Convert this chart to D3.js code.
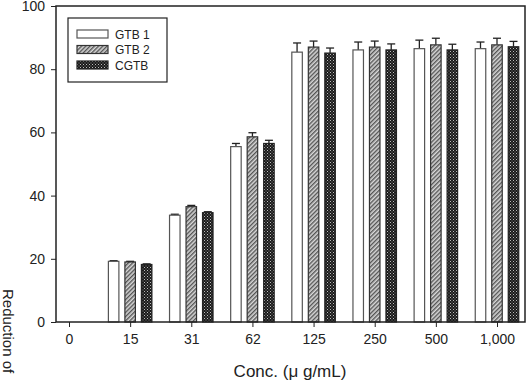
<!DOCTYPE html>
<html>
<head>
<meta charset="utf-8">
<script src="https://cdn.jsdelivr.net/npm/d3@7"></script>
<style>
  body { margin: 0; background: #fff; }
  svg { font-family: "Liberation Sans", Arial, sans-serif; }
</style>
</head>
<body>
<div id="chart"></div>
<script>
const categories = ["0", "15", "31", "62", "125", "250", "500", "1,000"]
const seriesNames = ["GTB 1", "GTB 2", "CGTB"]
const gtb1 = [0, 19.2, 33.8, 55.5, 85.4, 86.1, 86.5, 86.5]
const gtb2 = [0, 19.0, 36.5, 58.6, 87.0, 87.0, 87.7, 87.7]
const cgtb = [0, 18.2, 34.6, 56.5, 85.1, 86.1, 86.1, 87.1]
const gtb1Err = [0, 0.2, 0.3, 1.0, 2.9, 2.5, 2.7, 2.1]
const gtb2Err = [0, 0.2, 0.4, 1.3, 1.9, 1.9, 2.1, 2.1]
const cgtbErr = [0, 0.2, 0.3, 1.0, 1.6, 1.9, 1.8, 1.7]
const yTicks = [0, 20, 40, 60, 80, 100]

const width = 530, height = 384
const svg = d3.select("#chart").append("svg")
  .attr("width", width)
  .attr("height", height)

// patterns
const defs = svg.append("defs")
let hatch = defs.append("pattern")
  .attr("id", "hatch")
  .attr("patternUnits", "userSpaceOnUse")
  .attr("width", 3).attr("height", 3)
  .attr("patternTransform", "rotate(45)")
hatch.append("rect").attr("width", 3).attr("height", 3).attr("fill", "#d8d8d8")
hatch.append("rect").attr("width", 1.4).attr("height", 3).attr("fill", "#555")

let dots = defs.append("pattern")
  .attr("id", "dots")
  .attr("patternUnits", "userSpaceOnUse")
  .attr("width", 3).attr("height", 3)
dots.append("rect").attr("width", 3).attr("height", 3).attr("fill", "#1a1a1a")
dots.append("rect").attr("x", 0).attr("y", 0).attr("width", 1).attr("height", 1).attr("fill", "#bbb")
dots.append("rect").attr("x", 1.5).attr("y", 1.5).attr("width", 1).attr("height", 1).attr("fill", "#888")

const fills = ["#fff", "url(#hatch)", "url(#dots)"]
const strokes = ["#555", "#333", "#222"]

const plotLeft = 56, plotRight = 525, plotTop = 6, plotBottom = 322

let x = d3.scalePoint()
  .domain(categories)
  .range([69, 497])

let y = d3.scaleLinear()
  .domain([0, 100])
  .range([plotBottom, plotTop])

let offset = d3.scalePoint()
  .domain(seriesNames)
  .range([-16.5, 16.5])
const barW = 10.5

const series = [
  { name: "GTB 1", values: gtb1, err: gtb1Err },
  { name: "GTB 2", values: gtb2, err: gtb2Err },
  { name: "CGTB", values: cgtb, err: cgtbErr }
]

// bars
series.forEach((s, si) => {
  let g = svg.append("g")
  let rows = categories.map((c, i) => ({ c: c, v: s.values[i], e: s.err[i] }))
    .filter(d => d.v > 0)

  // error bars (upper only)
  g.selectAll("line.err")
    .data(rows)
    .enter().append("line")
    .attr("x1", d => x(d.c) + offset(s.name))
    .attr("x2", d => x(d.c) + offset(s.name))
    .attr("y1", d => y(d.v))
    .attr("y2", d => y(d.v + d.e))
    .attr("stroke", "#222")
    .attr("stroke-width", 1.3)
  g.selectAll("line.cap")
    .data(rows)
    .enter().append("line")
    .attr("x1", d => x(d.c) + offset(s.name) - 4)
    .attr("x2", d => x(d.c) + offset(s.name) + 4)
    .attr("y1", d => y(d.v + d.e))
    .attr("y2", d => y(d.v + d.e))
    .attr("stroke", "#222")
    .attr("stroke-width", 1.3)

  g.selectAll("rect")
    .data(rows)
    .enter().append("rect")
    .attr("x", d => x(d.c) + offset(s.name) - barW / 2)
    .attr("y", d => y(d.v))
    .attr("width", barW)
    .attr("height", d => y(0) - y(d.v))
    .attr("fill", fills[si])
    .attr("stroke", strokes[si])
    .attr("stroke-width", 1.2)
})

// frame
svg.append("rect")
  .attr("x", plotLeft).attr("y", plotTop)
  .attr("width", plotRight - plotLeft).attr("height", plotBottom - plotTop)
  .attr("fill", "none")
  .attr("stroke", "#222")
  .attr("stroke-width", 1.5)

// y axis
let yAxis = svg.append("g")
  .attr("transform", `translate(${plotLeft},0)`)
  .call(d3.axisLeft(y).tickValues(yTicks).tickSize(5).tickPadding(6))
yAxis.select(".domain").remove()
yAxis.selectAll("line").attr("stroke", "#222")
yAxis.selectAll("text").attr("font-size", 14).attr("fill", "#222")
  .attr("font-family", "Liberation Sans, Arial, sans-serif")

// x axis
let xAxis = svg.append("g")
  .attr("transform", `translate(0,${plotBottom})`)
  .call(d3.axisBottom(x).tickSize(5).tickPadding(7))
xAxis.select(".domain").remove()
xAxis.selectAll("line").attr("stroke", "#222")
xAxis.selectAll("text").attr("font-size", 14).attr("fill", "#222")
  .attr("font-family", "Liberation Sans, Arial, sans-serif")

// axis titles
svg.append("text")
  .attr("x", 290).attr("y", 377)
  .attr("text-anchor", "middle")
  .attr("font-size", 17)
  .attr("fill", "#222")
  .text("Conc. (μ g/mL)")

svg.append("text")
  .attr("transform", "translate(3,289) rotate(90)")
  .attr("font-size", 15)
  .attr("fill", "#222")
  .text("Reduction of")

// legend
let legend = svg.append("g")
legend.append("rect")
  .attr("x", 68).attr("y", 18)
  .attr("width", 99).attr("height", 64)
  .attr("fill", "#fff")
  .attr("stroke", "#222")
  .attr("stroke-width", 1.2)
let lg = legend.selectAll("g.item")
  .data(series)
  .enter().append("g")
  .attr("transform", (d, i) => `translate(77,${30 + i * 15.5})`)
lg.append("rect")
  .attr("width", 31).attr("height", 8)
  .attr("fill", (d, i) => fills[i])
  .attr("stroke", (d, i) => strokes[i])
  .attr("stroke-width", 1.2)
lg.append("text")
  .attr("x", 38).attr("y", 8.5)
  .attr("font-size", 12)
  .attr("fill", "#222")
  .text(d => d.name)
</script>
</body>
</html>
